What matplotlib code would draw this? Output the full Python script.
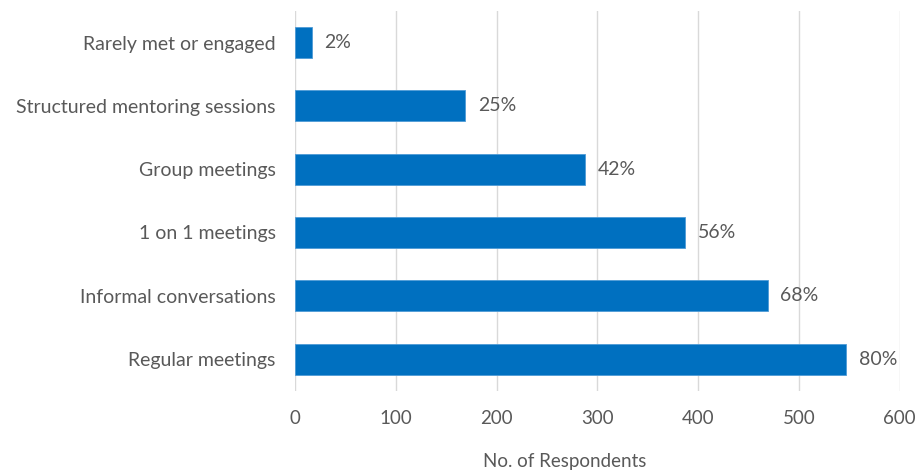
import matplotlib.pyplot as plt

# mentoring formats, bottom to top
categories = ["Regular meetings", "Informal conversations", "1 on 1 meetings",
              "Group meetings", "Structured mentoring sessions", "Rarely met or engaged"]
respondents = [547, 469, 387, 288, 169, 17]
pct_labels = ["80%", "68%", "56%", "42%", "25%", "2%"]
xticks = [0, 100, 200, 300, 400, 500, 600]

plt.rcParams['font.family'] = ['Lato', 'DejaVu Sans']
text_color = '#595959'

fig = plt.figure(figsize=(9.19, 4.72), dpi=100)
ax = fig.add_axes([0.321, 0.172, 0.658, 0.805])

y = range(len(categories))
bars = ax.barh(y, respondents, height=0.49, color='#0070C0',
               edgecolor='#4F9BD6', linewidth=0.6, zorder=3)

for bar, lab in zip(bars, pct_labels):
    ax.annotate(lab, (bar.get_width(), bar.get_y() + bar.get_height() / 2),
                xytext=(9, 0), textcoords='offset points', va='center', ha='left',
                fontsize=14, color=text_color)

ax.set_xlim(0, 600)
ax.set_ylim(-0.5, len(categories) - 0.5)
ax.set_xticks(xticks)
ax.set_yticks(list(y))
ax.set_yticklabels(categories)
ax.tick_params(axis='both', length=0, labelcolor=text_color)
ax.tick_params(axis='x', pad=14, labelsize=13.5)
ax.tick_params(axis='y', pad=14, labelsize=14)
ax.grid(axis='x', color='#d9d9d9', linewidth=1, zorder=0)
for s in ax.spines.values():
    s.set_visible(False)

ax.set_xlabel("No. of Respondents", fontsize=13.5, color=text_color)
ax.xaxis.set_label_coords(0.446, -0.187)
ax.xaxis.label.set_va('center')

fig.savefig("out.png", dpi=100)
